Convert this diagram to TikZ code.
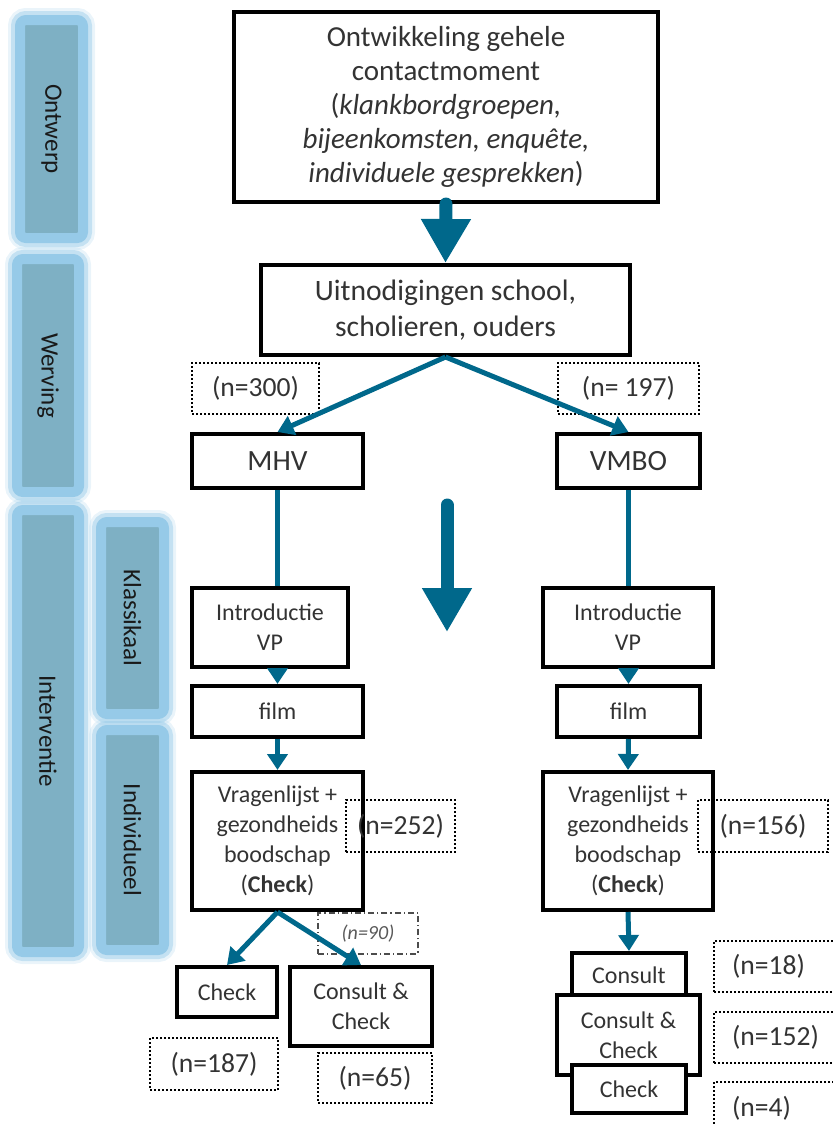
\documentclass[tikz,border=0pt]{standalone}
\usepackage{fontspec}
\setmainfont{Carlito}
\usepackage{tikz}
\usetikzlibrary{arrows.meta, positioning, calc}

\definecolor{vblue}{RGB}{0,104,139}
\definecolor{barfill}{RGB}{126,176,196}
\definecolor{barglow}{RGB}{150,202,232}

\begin{document}
\begin{tikzpicture}[x=0.5pt, y=-0.5pt,
    box/.style={draw=black, line width=2pt, fill=white, align=center, text=black!80,
        inner sep=0pt, font=\fontsize{12}{15}\selectfont},
    nbox/.style={draw=black, line width=1pt, dash pattern=on 1pt off 1pt, align=center,
        text=black!80, inner sep=0pt, font=\fontsize{13.8}{15}\selectfont},
    openbox/.style={nbox, anchor=west, align=left, text width=60pt, inner xsep=9pt},
    phase/.style={fill=barfill, draw=barglow, line width=5pt, rounded corners=3pt,
        rotate=-90, text=black!90, inner sep=0pt, font=\fontsize{12.5}{14}\selectfont,
        preaction={draw=barglow, line width=12pt, rounded corners=7pt, opacity=0.2},
        preaction={draw=barglow, line width=9pt, rounded corners=5pt, opacity=0.45}},
    flow/.style={draw=vblue, line width=2.5pt, -{Triangle[width=10pt,length=8pt]}},
    link/.style={draw=vblue, line width=2.5pt},
    bigflow/.style={draw=vblue, line width=6.5pt, line cap=round,
        -{Triangle[width=23.5pt,length=22pt]}}
]
    \useasboundingbox (0,0) rectangle (833,1126);
    \clip (0,0) rectangle (833,1126);

    % fasen links
    \node[phase, minimum width=109pt, minimum height=31.5pt] (ontwerp) at (51.5,129) {Ontwerp};
    \node[phase, minimum width=116.5pt, minimum height=31pt] (werving) at (48,375.5) {Werving};
    \node[phase, minimum width=221pt, minimum height=31pt] (interventie) at (48,731) {Interventie};
    \node[phase, minimum width=96pt, minimum height=31.5pt] (klassikaal) at (132.5,618) {Klassikaal};
    \node[phase, minimum width=110pt, minimum height=31.5pt] (individueel) at (132.5,840) {Individueel};

    % ontwerp en werving
    \node[box, minimum width=212pt, minimum height=95pt, font=\fontsize{14.5}{17}\selectfont]
        (ontw) at (446,107) {Ontwikkeling gehele\\contactmoment\\(\textit{klankbordgroepen,}\\
        \textit{bijeenkomsten, enquête,}\\\textit{individuele gesprekken})};
    \node[box, minimum width=184.5pt, minimum height=45pt, font=\fontsize{14.8}{18}\selectfont]
        (uitn) at (445.5,310) {Uitnodigingen school,\\scholieren, ouders};
    \node[nbox, minimum width=63.5pt, minimum height=25.5pt] (n300) at (255.5,388.5) {(n=300)};
    \node[nbox, minimum width=70.5pt, minimum height=25.5pt] (n197) at (628.5,388.5) {(n= 197)};
    \node[box, minimum width=85.5pt, minimum height=27pt, font=\fontsize{14.7}{15}\selectfont]
        (mhv) at (277.5,461) {MHV};
    \node[box, minimum width=71.5pt, minimum height=27pt, font=\fontsize{14.7}{15}\selectfont]
        (vmbo) at (628.5,461) {VMBO};

    % klassikaal
    \node[box, minimum width=78pt, minimum height=39.5pt] (introL) at (270,627.5) {Introductie\\VP};
    \node[box, minimum width=85pt, minimum height=39.5pt] (introR) at (628,627.5) {Introductie\\VP};
    \node[box, minimum width=85.5pt, minimum height=25.5pt] (filmL) at (277.5,711.5) {film};
    \node[box, minimum width=71.5pt, minimum height=25.5pt] (filmR) at (628.5,711.5) {film};

    % individueel
    \node[box, minimum width=85.5pt, minimum height=69pt] (vragL) at (277.5,841)
        {Vragenlijst +\\gezondheids\\boodschap\\(\textbf{Check})};
    \node[box, minimum width=85pt, minimum height=69pt] (vragR) at (628,841)
        {Vragenlijst +\\gezondheids\\boodschap\\(\textbf{Check})};
    \node[nbox, minimum width=54.5pt, minimum height=26pt] (n252) at (400.5,826) {(n=252)};
    \node[nbox, minimum width=65pt, minimum height=26pt] (n156) at (763,826) {(n=156)};
    \node[nbox, draw=black!70, line width=0.6pt, dash pattern=on 3pt off 1.5pt on 0.6pt off 1.5pt,
        text=black!65, font=\fontsize{10}{12}\selectfont\itshape,
        minimum width=50pt, minimum height=20.5pt] (n90) at (368,933.5) {(n=90)};

    \node[box, minimum width=50pt, minimum height=25pt] (checkL) at (227,992) {Check};
    \node[box, minimum width=71pt, minimum height=39.5pt] (consL) at (361,1006.5) {Consult \&\\Check};
    \node[nbox, minimum width=64pt, minimum height=26pt] (n187) at (214,1064) {(n=187)};
    \node[nbox, minimum width=57pt, minimum height=25pt] (n65) at (375,1078) {(n=65)};

    \node[box, minimum width=57pt, minimum height=22pt] (consR) at (629,975) {Consult};
    \node[box, minimum width=71.5pt, minimum height=40pt] (ccR) at (628.5,1035) {Consult \&\\Check};
    \node[box, minimum width=57pt, minimum height=24pt] (chkR) at (629,1089) {Check};
    \node[openbox, minimum height=25.5pt] (n18) at (713,966.5) {(n=18)};
    \node[openbox, minimum height=25.5pt] (n152) at (713,1037.5) {(n=152)};
    \node[openbox, minimum height=26pt] (n4) at (713,1108) {(n=4)};

    % pijlen
    \draw[bigflow] (ontw.south) -- (uitn.north);
    \coordinate (pijltop) at (447,505);
    \coordinate (pijlend) at (447,632);
    \draw[bigflow] (pijltop) -- (pijlend);

    \draw[flow] (uitn.south) -- (mhv.north);
    \draw[flow] (uitn.south) -- (vmbo.north);
    \draw[link] (mhv.south) -- (mhv.south |- introL.north);
    \draw[link] (vmbo.south) -- (vmbo.south |- introR.north);
    \draw[flow] (filmL.north |- introL.south) -- (filmL.north);
    \draw[flow] (filmR.north |- introR.south) -- (filmR.north);
    \draw[flow] (filmL.south) -- (vragL.north);
    \draw[flow] (filmR.south) -- (vragR.north);
    \draw[flow] (vragL.south) -- (checkL.north);
    \draw[flow] (vragL.south) -- (consL.north);
    \draw[flow] (vragR.south) -- (consR.north);
\end{tikzpicture}
\end{document}
